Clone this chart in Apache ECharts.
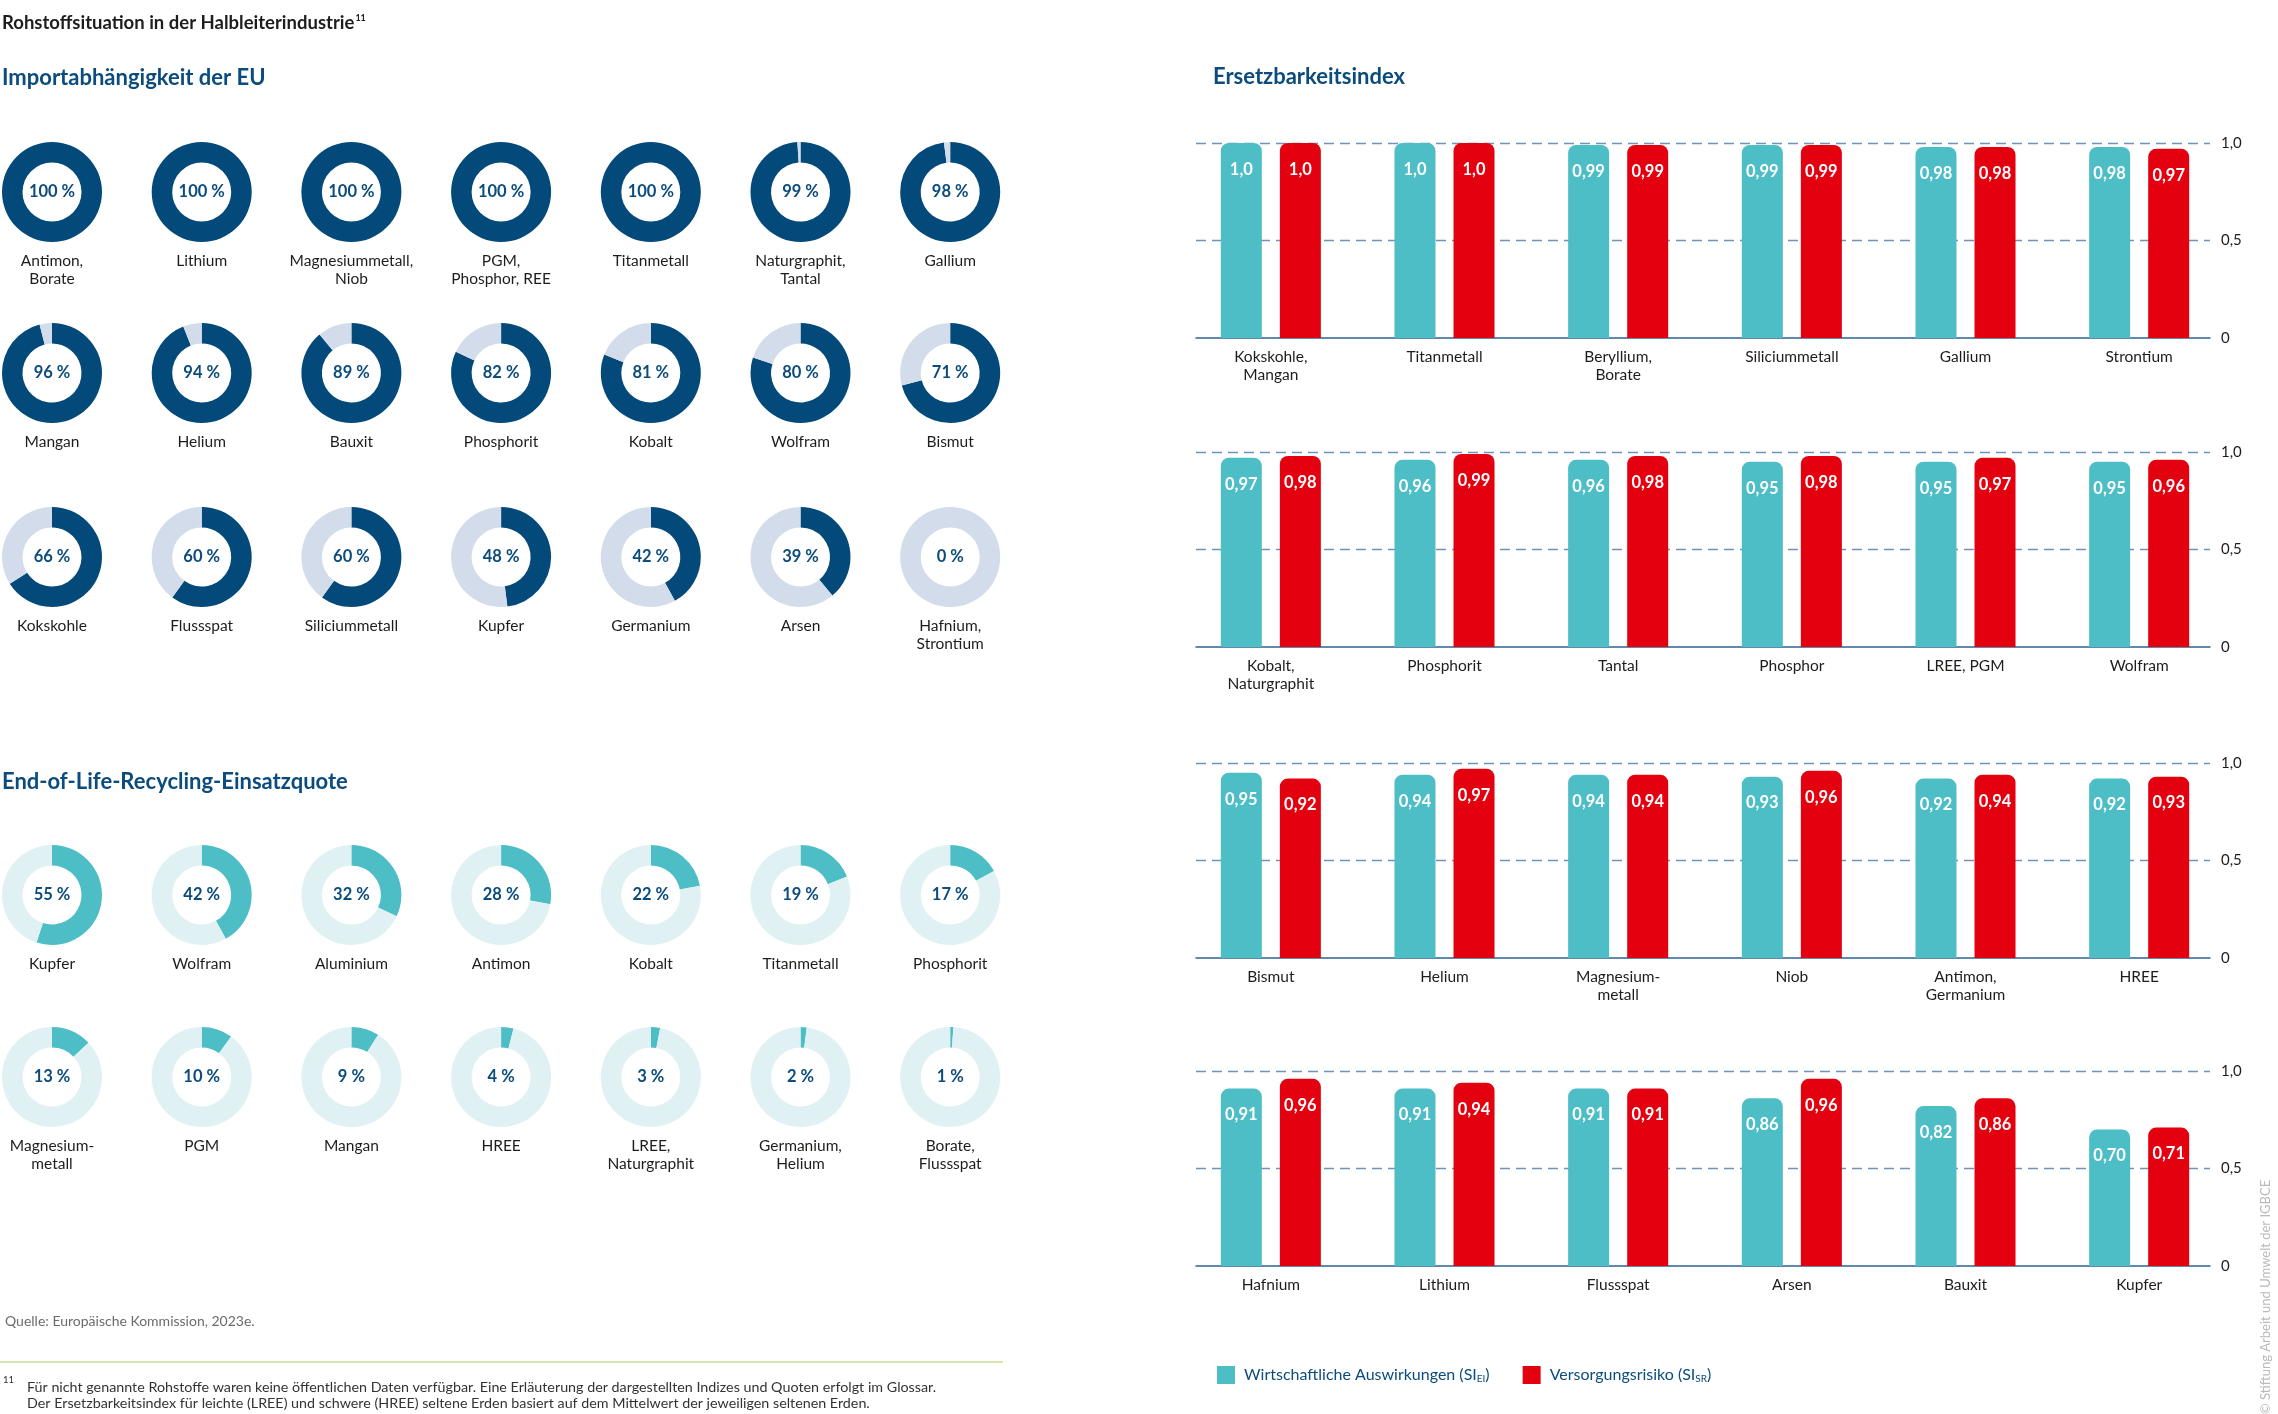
<!DOCTYPE html>
<html><head><meta charset="utf-8">
<script src="https://cdn.jsdelivr.net/npm/echarts@6/dist/echarts.min.js"></script>
<style>html,body{margin:0;padding:0;background:#fff}#c{width:2278px;height:1414px}</style>
</head><body><div id="c"></div>
<script>
// ---------- DATA ----------
const importNames = ['Antimon,\nBorate','Lithium','Magnesiummetall,\nNiob','PGM,\nPhosphor, REE','Titanmetall','Naturgraphit,\nTantal','Gallium',
  'Mangan','Helium','Bauxit','Phosphorit','Kobalt','Wolfram','Bismut',
  'Kokskohle','Flussspat','Siliciummetall','Kupfer','Germanium','Arsen','Hafnium,\nStrontium'];
const importValues = [100,100,100,100,100,99,98, 96,94,89,82,81,80,71, 66,60,60,48,42,39,0];

const recyclingNames = ['Kupfer','Wolfram','Aluminium','Antimon','Kobalt','Titanmetall','Phosphorit',
  'Magnesium-\nmetall','PGM','Mangan','HREE','LREE,\nNaturgraphit','Germanium,\nHelium','Borate,\nFlussspat'];
const recyclingValues = [55,42,32,28,22,19,17, 13,10,9,4,3,2,1];

const cats1 = ['Kokskohle,\nMangan','Titanmetall','Beryllium,\nBorate','Siliciummetall','Gallium','Strontium'];
const ei1 = [1.0,1.0,0.99,0.99,0.98,0.98];
const sr1 = [1.0,1.0,0.99,0.99,0.98,0.97];
const cats2 = ['Kobalt,\nNaturgraphit','Phosphorit','Tantal','Phosphor','LREE, PGM','Wolfram'];
const ei2 = [0.97,0.96,0.96,0.95,0.95,0.95];
const sr2 = [0.98,0.99,0.98,0.98,0.97,0.96];
const cats3 = ['Bismut','Helium','Magnesium-\nmetall','Niob','Antimon,\nGermanium','HREE'];
const ei3 = [0.95,0.94,0.94,0.93,0.92,0.92];
const sr3 = [0.92,0.97,0.94,0.96,0.94,0.93];
const cats4 = ['Hafnium','Lithium','Flussspat','Arsen','Bauxit','Kupfer'];
const ei4 = [0.91,0.91,0.91,0.86,0.82,0.70];
const sr4 = [0.96,0.94,0.91,0.96,0.86,0.71];
const yTicks = [0, 0.5, 1.0];

const EI_NAME = 'Wirtschaftliche Auswirkungen (SIEI)';
const SR_NAME = 'Versorgungsrisiko (SISR)';

// ---------- STYLE / LAYOUT ----------
const FONT = "Lato, 'Open Sans', sans-serif";
const BLUE_TXT = '#0b4c7d';
const DARK = '#1d1d1b';
const IMP_DARK = '#03497a', IMP_LIGHT = '#d3dcea';
const REC_DARK = '#4dbdc6', REC_LIGHT = '#dff1f3';
const TEAL = '#4dbdc6', RED = '#e3000f';

const colX = i => 52 + i * 149.7;
const importRowsY = [192, 373, 557];
const recRowsY = [895, 1077];

const series = [], graphics = [], grids = [], xAxes = [], yAxes = [];

function fmt(v){ return v === 1 ? '1,0' : v.toFixed(2).replace('.', ','); }

function donut(cx, cy, v, name, dark, light){
  const lab = {show:true, position:'center', formatter: v + ' %', color: BLUE_TXT,
    fontSize:16.5, fontWeight:'bold', fontFamily:FONT};
  series.push({
    type:'pie', silent:true, animation:false, radius:[29.5,50], center:[cx,cy],
    startAngle:90, clockwise:true, avoidLabelOverlap:false,
    label:{show:false}, labelLine:{show:false}, emphasis:{disabled:true},
    data:[
      {value:v, itemStyle:{color:dark}, label: v > 0 ? lab : {show:false}},
      {value:100 - v, itemStyle:{color:light}, label: v > 0 ? {show:false} : lab}
    ]
  });
  graphics.push({type:'text', x:cx, y:cy + 60, silent:true,
    style:{text:name, align:'center', verticalAlign:'top', fontSize:15.5, lineHeight:18,
      fontFamily:FONT, fill:DARK}});
}

importValues.forEach((v, i) => {
  donut(colX(i % 7), importRowsY[Math.floor(i / 7)], v, importNames[i], IMP_DARK, IMP_LIGHT);
});
recyclingValues.forEach((v, i) => {
  donut(colX(i % 7), recRowsY[Math.floor(i / 7)], v, recyclingNames[i], REC_DARK, REC_LIGHT);
});

// ---------- BAR PANELS ----------
const panels = [
  {cats:cats1, ei:ei1, sr:sr1},
  {cats:cats2, ei:ei2, sr:sr2},
  {cats:cats3, ei:ei3, sr:sr3},
  {cats:cats4, ei:ei4, sr:sr4}
];
const panelTops = [143, 452, 763, 1071];
const panelH = 195;

function bar(name, data, color, gi){
  return {type:'bar', name, xAxisIndex:gi, yAxisIndex:gi, data, barWidth:41, barGap:'44%',
    silent:true, animation:false,
    itemStyle:{color, borderRadius:[8,8,0,0]},
    label:{show:true, position:'insideTop', distance:18, color:'#fff', fontSize:16.5,
      fontWeight:'bold', fontFamily:FONT, formatter: p => fmt(p.value)}};
}

panels.forEach((p, k) => {
  const top = panelTops[k];
  const gA = 2 * k, gB = 2 * k + 1;
  grids.push({left:1184, top, width:1042, height:panelH});
  grids.push({left:1196, top, width:1014, height:panelH});
  xAxes.push({type:'category', gridIndex:gA, data:p.cats, axisLine:{show:false}, axisTick:{show:false},
    axisLabel:{interval:0, margin:10, fontSize:15.5, lineHeight:18, color:DARK, fontFamily:FONT}});
  xAxes.push({type:'value', gridIndex:gB, min:0, max:1,
    axisLine:{show:true, lineStyle:{color:'#2f6190', width:1.5}},
    axisTick:{show:false}, axisLabel:{show:false}, splitLine:{show:false}});
  yAxes.push({type:'value', gridIndex:gA, min:0, max:1, show:false});
  yAxes.push({type:'value', gridIndex:gB, min:yTicks[0], max:yTicks[2], interval:yTicks[1] - yTicks[0], position:'right',
    axisLine:{show:false}, axisTick:{show:false},
    axisLabel:{margin:11, fontSize:15, color:DARK, fontFamily:FONT,
      formatter: v => v === 0 ? '0' : v.toFixed(1).replace('.', ',')},
    splitLine:{show:true, lineStyle:{color:['rgba(0,0,0,0)','#7094b7','#7094b7'], type:[10,6], width:1.3}}});
  series.push(bar(EI_NAME, p.ei, TEAL, gA));
  series.push(bar(SR_NAME, p.sr, RED, gA));
});

// ---------- TEXT ----------
graphics.push({type:'text', x:2, y:23, silent:true, style:{
  text:'{a|Rohstoffsituation in der Halbleiterindustrie}{b|11}', verticalAlign:'middle',
  rich:{a:{fontSize:18.5, fontWeight:'bold', fontFamily:FONT, fill:DARK},
        b:{fontSize:9, fontWeight:'bold', fontFamily:FONT, fill:DARK, padding:[0,0,9,1]}}}});
const heads = [['Importabhängigkeit der EU', 2, 78], ['End-of-Life-Recycling-Einsatzquote', 2, 782], ['Ersetzbarkeitsindex', 1213, 77]];
heads.forEach(h => graphics.push({type:'text', x:h[1], y:h[2], silent:true, style:{
  text:h[0], verticalAlign:'middle', fontSize:22, fontWeight:'bold', fontFamily:FONT, fill:BLUE_TXT}}));

graphics.push({type:'text', x:5, y:1321, silent:true, style:{text:'Quelle: Europäische Kommission, 2023e.',
  verticalAlign:'middle', fontSize:14, fontFamily:FONT, fill:'#6b6b6b'}});
graphics.push({type:'line', silent:true, shape:{x1:0, y1:1362, x2:1003, y2:1362}, style:{stroke:'#c6df94', lineWidth:1.5}});
graphics.push({type:'text', x:3, y:1380, silent:true, style:{text:'11', verticalAlign:'middle', fontSize:9.5, fontFamily:FONT, fill:'#333'}});
graphics.push({type:'text', x:27, y:1380, silent:true, style:{
  text:'Für nicht genannte Rohstoffe waren keine öffentlichen Daten verfügbar. Eine Erläuterung der dargestellten Indizes und Quoten erfolgt im Glossar.\nDer Ersetzbarkeitsindex für leichte (LREE) und schwere (HREE) seltene Erden basiert auf dem Mittelwert der jeweiligen seltenen Erden.',
  verticalAlign:'top', fontSize:14.3, lineHeight:15.5, fontFamily:FONT, fill:'#333'}});
graphics.push({type:'text', x:2266, y:1297, rotation:Math.PI / 2, silent:true, style:{
  text:'© Stiftung Arbeit und Umwelt der IGBCE', align:'center', verticalAlign:'middle',
  fontSize:13, fontFamily:FONT, fill:'#b9b9b9'}});

// ---------- CHART ----------
const chart = echarts.init(document.getElementById('c'), null, {renderer:'canvas'});
chart.setOption({
  animation:false,
  backgroundColor:'#fff',
  grid:grids, xAxis:xAxes, yAxis:yAxes, series,
  legend:{data:[EI_NAME, SR_NAME], left:1212, top:1361, itemWidth:18, itemHeight:18, itemGap:33,
    icon:'rect', selectedMode:false,
    formatter: n => n === EI_NAME ? '{t| Wirtschaftliche Auswirkungen (SI}{s|EI}{t|)}' : '{t| Versorgungsrisiko (SI}{s|SR}{t|)}',
    textStyle:{rich:{t:{fontSize:16, color:BLUE_TXT, fontFamily:FONT},
                     s:{fontSize:10, color:BLUE_TXT, fontFamily:FONT, padding:[8,0,0,0]}}}},
  graphic:graphics
});
</script></body></html>
